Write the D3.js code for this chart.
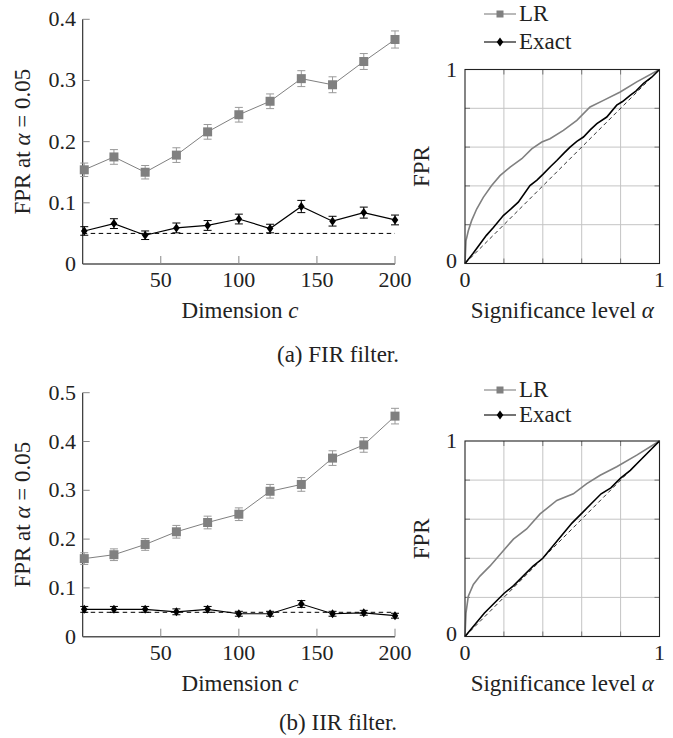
<!DOCTYPE html>
<html><head><meta charset="utf-8">
<script src="https://cdn.jsdelivr.net/npm/d3@7"></script>
<style>
body{margin:0;background:#fff;}
</style></head>
<body><svg id="chart" width="673" height="738"></svg>
<script>
// ---------- data ----------
const dims = [1, 20, 40, 60, 80, 100, 120, 140, 160, 180, 200];
const firLR      = [0.154, 0.175, 0.150, 0.178, 0.216, 0.244, 0.266, 0.303, 0.293, 0.331, 0.367];
const firLRErr   = [0.011, 0.012, 0.011, 0.012, 0.012, 0.012, 0.012, 0.013, 0.013, 0.013, 0.014];
const firExact   = [0.054, 0.066, 0.047, 0.059, 0.063, 0.0735, 0.058, 0.094, 0.070, 0.084, 0.072];
const firExactErr= [0.007, 0.008, 0.007, 0.008, 0.008, 0.008, 0.007, 0.010, 0.008, 0.009, 0.008];
const iirLR      = [0.160, 0.168, 0.189, 0.215, 0.234, 0.251, 0.298, 0.312, 0.366, 0.393, 0.452];
const iirLRErr   = [0.012, 0.012, 0.012, 0.013, 0.013, 0.013, 0.014, 0.014, 0.015, 0.015, 0.016];
const iirExact   = [0.056, 0.056, 0.056, 0.051, 0.056, 0.047, 0.047, 0.067, 0.047, 0.049, 0.043];
const iirExactErr= [0.006, 0.006, 0.006, 0.006, 0.006, 0.005, 0.005, 0.007, 0.005, 0.005, 0.005];
const nominalAlpha = 0.05;

const firRocLRAlpha = [0,0.005,0.017,0.034,0.06,0.094,0.137,0.18,0.232,0.292,0.343,0.395,0.437,0.506,0.575,0.643,0.712,0.798,0.883,1];
const firRocLRFpr   = [0,0.117,0.169,0.221,0.281,0.341,0.402,0.453,0.497,0.54,0.591,0.626,0.643,0.686,0.738,0.807,0.841,0.884,0.936,1];
const firRocExAlpha = [0,0.04,0.077,0.11,0.146,0.197,0.235,0.274,0.334,0.37,0.403,0.44,0.472,0.51,0.54,0.575,0.609,0.645,0.678,0.729,0.78,0.81,0.849,0.88,0.918,0.96,1];
const firRocExFpr   = [0,0.05,0.1,0.145,0.186,0.247,0.28,0.316,0.402,0.43,0.462,0.5,0.531,0.57,0.6,0.63,0.652,0.69,0.721,0.755,0.816,0.835,0.867,0.89,0.928,0.96,1];
const iirRocLRAlpha = [0,0.005,0.017,0.043,0.077,0.129,0.189,0.249,0.317,0.386,0.472,0.557,0.626,0.695,0.78,0.883,1];
const iirRocLRFpr   = [0,0.12,0.206,0.266,0.309,0.361,0.43,0.498,0.55,0.627,0.696,0.73,0.782,0.825,0.868,0.928,1];
const iirRocExAlpha = [0,0.05,0.1,0.15,0.2,0.25,0.3,0.35,0.4,0.45,0.5,0.55,0.6,0.65,0.7,0.75,0.8,0.85,0.9,0.95,1];
const iirRocExFpr   = [0,0.06,0.12,0.17,0.22,0.26,0.31,0.36,0.40,0.46,0.52,0.58,0.63,0.68,0.73,0.76,0.81,0.85,0.9,0.95,1];

const leftYTicks = [[0,0.1,0.2,0.3,0.4],[0,0.1,0.2,0.3,0.4,0.5]];
const xTicks = [50,100,150,200];
const gridTicks = [0.2,0.4,0.6,0.8];
const captions = ["(a) FIR filter.", "(b) IIR filter."];

// ---------- drawing ----------
const FONT = "'Liberation Serif', 'DejaVu Serif', serif";
const svg = d3.select("#chart").attr("font-family", FONT);
const GRAY = "#808080";
const FS = 22;
const FL = 23;
const TXT = "#222";

function txt(g, x, y, s, anchor, fs) {
  return g.append("text").attr("x",x).attr("y",y).attr("text-anchor",anchor||"start")
    .attr("font-size",fs||FS).attr("fill",TXT).attr("font-family",FONT).text(s);
}

function drawPanel(p) {
  const g = svg.append("g");
  const x = d3.scaleLinear().domain([0,200]).range([82.7,395]);
  const y = d3.scaleLinear().domain([0,p.ymax]).range([p.y0,p.ytop]);
  g.append("line").attr("x1",x(0)).attr("x2",x(0)).attr("y1",y(0)).attr("y2",y(p.ymax)).attr("stroke","#222").attr("stroke-width",1.1);
  g.append("line").attr("x1",x(0)).attr("x2",x(200)).attr("y1",y(0)).attr("y2",y(0)).attr("stroke","#555").attr("stroke-width",1.5);
  xTicks.forEach(t=>{
    g.append("line").attr("x1",x(t)).attr("x2",x(t)).attr("y1",y(0)).attr("y2",y(0)-8).attr("stroke","#888").attr("stroke-width",1);
    txt(g, x(t), y(0)+23, t, "middle");
  });
  p.yticks.forEach(t=>{
    if(t>0) g.append("line").attr("x1",x(0)).attr("x2",x(0)+7).attr("y1",y(t)).attr("y2",y(t)).attr("stroke","#888").attr("stroke-width",1);
    txt(g, 76, y(t)+7, t===0?"0":d3.format(".1f")(t), "end");
  });
  const yl = txt(g,0,0,"","middle",FL).attr("x",null).attr("y",null)
    .attr("transform",`translate(30,${(y(0)+y(p.ymax))/2}) rotate(-90)`);
  yl.append("tspan").text("FPR at ");
  yl.append("tspan").attr("font-style","italic").text("α");
  yl.append("tspan").text(" = 0.05");
  const xl = txt(g,240,y(0)+54,"","middle",FL);
  xl.append("tspan").text("Dimension ");
  xl.append("tspan").attr("font-style","italic").text("c");
  g.append("line").attr("x1",x(0)).attr("x2",x(200)).attr("y1",y(nominalAlpha)).attr("y2",y(nominalAlpha))
    .attr("stroke","#000").attr("stroke-width",1).attr("stroke-dasharray","4.5,3.5");
  const line = d3.line().x((d,i)=>x(dims[i])).y(d=>y(d));
  [[p.lr,p.lrErr,GRAY,"sq"],[p.ex,p.exErr,"#000","dm"]].forEach(([vals,errs,col,m])=>{
    g.append("path").datum(vals).attr("d",line).attr("fill","none").attr("stroke",col).attr("stroke-width",m==="sq"?1:1.2);
    vals.forEach((v,i)=>{
      const cx=x(dims[i]);
      const capCol = m==="sq" ? "#999" : "#000";
      g.append("line").attr("x1",cx).attr("x2",cx).attr("y1",y(v-errs[i])).attr("y2",y(v+errs[i])).attr("stroke",capCol).attr("stroke-width",1);
      [v-errs[i],v+errs[i]].forEach(e=>g.append("line").attr("x1",cx-4).attr("x2",cx+4).attr("y1",y(e)).attr("y2",y(e)).attr("stroke",capCol).attr("stroke-width",1));
      drawMarker(g,m,cx,y(v),col);
    });
  });
  txt(g, 338, p.caption, p.cap, "middle", FL);
}

function drawMarker(g,m,cx,cy,col){
  if(m==="sq") g.append("rect").attr("x",cx-4.5).attr("y",cy-4.5).attr("width",9).attr("height",9).attr("fill",col);
  else g.append("path").attr("d",`M${cx},${cy-4.5}L${cx+3.3},${cy}L${cx},${cy+4.5}L${cx-3.3},${cy}Z`).attr("fill",col);
}

function drawRoc(p){
  const g = svg.append("g");
  const x = d3.scaleLinear().domain([0,1]).range([465,659.5]);
  const y = d3.scaleLinear().domain([0,1]).range([p.bottom,p.top]);
  gridTicks.forEach(t=>{
    g.append("line").attr("x1",x(t)).attr("x2",x(t)).attr("y1",y(0)).attr("y2",y(1)).attr("stroke","#c4c4c4").attr("stroke-width",1);
    g.append("line").attr("x1",x(0)).attr("x2",x(1)).attr("y1",y(t)).attr("y2",y(t)).attr("stroke","#c4c4c4").attr("stroke-width",1);
    [[x(t),y(0),x(t),y(0)-5],[x(t),y(1),x(t),y(1)+5],[x(0),y(t),x(0)+5,y(t)],[x(1),y(t),x(1)-5,y(t)]].forEach(c=>
      g.append("line").attr("x1",c[0]).attr("y1",c[1]).attr("x2",c[2]).attr("y2",c[3]).attr("stroke","#777").attr("stroke-width",1));
  });
  g.append("line").attr("x1",x(0)).attr("y1",y(0)).attr("x2",x(1)).attr("y2",y(1)).attr("stroke","#000").attr("stroke-width",0.8).attr("stroke-dasharray","4,3");
  const ln = (xs)=>d3.line().x((d,i)=>x(xs[i])).y(d=>y(d));
  g.append("path").datum(p.lrF).attr("d",ln(p.lrA)).attr("fill","none").attr("stroke",GRAY).attr("stroke-width",1.6);
  g.append("path").datum(p.exF).attr("d",ln(p.exA)).attr("fill","none").attr("stroke","#000").attr("stroke-width",1.6);
  g.append("rect").attr("x",x(0)).attr("y",y(1)).attr("width",x(1)-x(0)).attr("height",y(0)-y(1)).attr("fill","none").attr("stroke","#222").attr("stroke-width",1.1);
  txt(g, x(0)-8, y(1)+7, "1", "end");
  txt(g, x(0)-8, y(0)+4, "0", "end");
  txt(g, x(0), y(0)+23, "0", "middle");
  txt(g, x(1), y(0)+23, "1", "middle");
  txt(g,0,0,"FPR","middle",FL).attr("x",null).attr("y",null).attr("transform",`translate(429,${(y(0)+y(1))/2}) rotate(-90)`);
  const xl = txt(g,(x(0)+x(1))/2,y(0)+54,"","middle",FL);
  xl.append("tspan").text("Significance level ");
  xl.append("tspan").attr("font-style","italic").text("α");
  [["LR",GRAY,"sq",p.leg1],["Exact","#000","dm",p.leg2]].forEach(([name,col,m,ly])=>{
    g.append("line").attr("x1",484).attr("x2",516).attr("y1",ly-7).attr("y2",ly-7).attr("stroke",col).attr("stroke-width",1.1);
    if(m==="sq") g.append("rect").attr("x",500-3.5).attr("y",ly-10.5).attr("width",7).attr("height",7).attr("fill",col);
    else drawMarker(g,m,500,ly-7,col);
    txt(g, 519, ly, name, "start", FL);
  });
}

drawPanel({ymax:0.4, y0:264, ytop:19.3, yticks:leftYTicks[0], lr:firLR, lrErr:firLRErr, ex:firExact, exErr:firExactErr, caption:362, cap:captions[0]});
drawPanel({ymax:0.5, y0:636.7, ytop:392.7, yticks:leftYTicks[1], lr:iirLR, lrErr:iirLRErr, ex:iirExact, exErr:iirExactErr, caption:730, cap:captions[1]});
drawRoc({top:69.5, bottom:263.5, lrA:firRocLRAlpha, lrF:firRocLRFpr, exA:firRocExAlpha, exF:firRocExFpr, leg1:21, leg2:49});
drawRoc({top:441, bottom:636.5, lrA:iirRocLRAlpha, lrF:iirRocLRFpr, exA:iirRocExAlpha, exF:iirRocExFpr, leg1:397, leg2:422});
</script></body></html>
